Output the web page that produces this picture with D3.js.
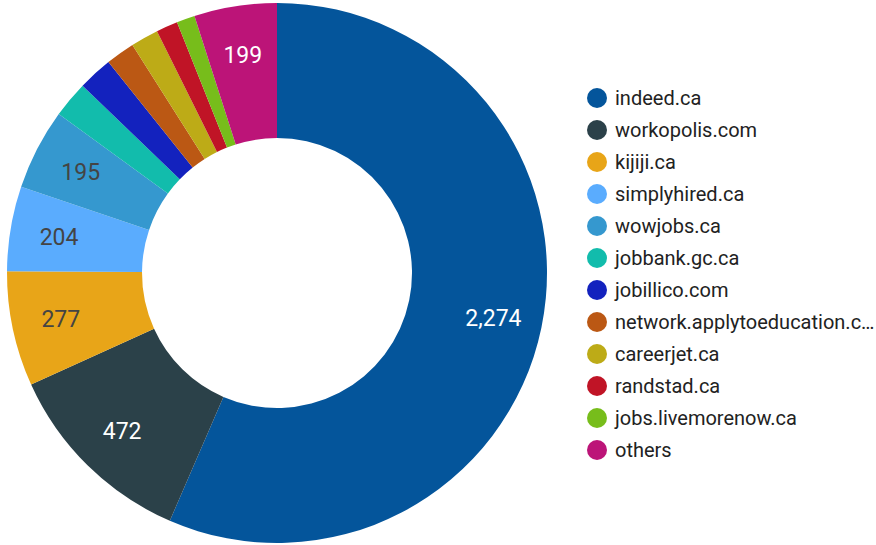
<!DOCTYPE html>
<html>
<head>
<meta charset="utf-8">
<script src="https://d3js.org/d3.v7.min.js"></script>
<style>
  body { margin: 0; background: #fff; }
  text { font-family: Roboto, "Noto Sans", sans-serif; }
</style>
</head>
<body>
<div id="chart"></div>
<script>
// sources and session counts
var sources = ["indeed.ca", "workopolis.com", "kijiji.ca", "simplyhired.ca", "wowjobs.ca",
  "jobbank.gc.ca", "jobillico.com", "network.applytoeducation.c\u2026", "careerjet.ca",
  "randstad.ca", "jobs.livemorenow.ca", "others"];
var counts = [2274, 472, 277, 204, 195, 88, 83, 70, 67, 52, 44, 199];
var colors = ["#04559b", "#2b4149", "#e8a518", "#5aacfe", "#3598cf", "#12bcac",
  "#1322be", "#bb5814", "#bdab17", "#c01426", "#77bd1b", "#bc1478"];
var darkLabel = ["kijiji.ca", "simplyhired.ca", "wowjobs.ca"];

var width = 876, height = 545;
var cx = 277, cy = 273, outerR = 270, innerR = 135, labelR = 221;

var svg = d3.select("#chart").append("svg")
  .attr("width", width).attr("height", height);

var data = sources.map(function(s, i) { return {name: s, value: counts[i]}; });
var total = d3.sum(counts);

var pie = d3.pie().sort(null).value(function(d) { return d.value; });
var arc = d3.arc().innerRadius(innerR).outerRadius(outerR);
var labelArc = d3.arc().innerRadius(labelR).outerRadius(labelR);
var color = d3.scaleOrdinal().domain(sources).range(colors);

var g = svg.append("g").attr("transform", "translate(" + cx + "," + cy + ")");
var arcs = pie(data);

g.selectAll("path").data(arcs).enter().append("path")
  .attr("d", arc)
  .attr("fill", function(d) { return color(d.data.name); });

var fmt = d3.format(",");
g.selectAll("text.val").data(arcs.filter(function(d) { return d.data.value / total > 0.04; }))
  .enter().append("text")
  .attr("class", "val")
  .attr("transform", function(d) { return "translate(" + labelArc.centroid(d) + ")"; })
  .attr("text-anchor", "middle")
  .attr("dy", "0.35em")
  .style("font-size", "23px")
  .attr("fill", function(d) { return darkLabel.indexOf(d.data.name) >= 0 ? "#444" : "#fff"; })
  .text(function(d) { return fmt(d.data.value); });

// legend
var legend = svg.append("g").attr("transform", "translate(597,98)");
var rows = legend.selectAll("g").data(sources).enter().append("g")
  .attr("transform", function(d, i) { return "translate(0," + (i * 32) + ")"; });
rows.append("circle").attr("r", 10).attr("fill", function(d) { return color(d); });
rows.append("text").attr("x", 18).attr("dy", "0.35em")
  .style("font-size", "20px").attr("fill", "#222")
  .text(function(d) { return d; });
</script>
</body>
</html>
